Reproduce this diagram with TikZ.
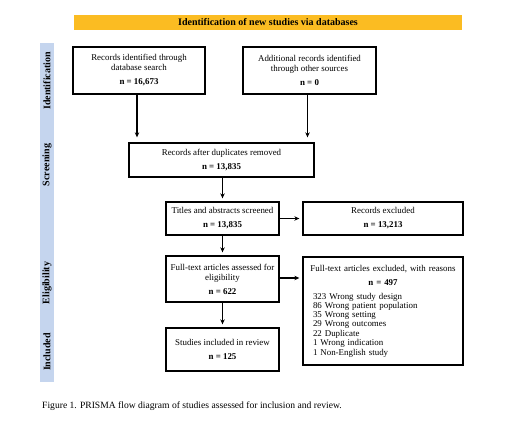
\documentclass[tikz,border=0pt]{standalone}
\usepackage{fontspec}
\setmainfont{Liberation Serif}
\usetikzlibrary{arrows.meta}
\definecolor{banner}{HTML}{FBBC22}
\definecolor{sidebar}{HTML}{C5D5EE}
\begin{document}
\begin{tikzpicture}[x=1pt,y=-1pt,
  box/.style={draw=black,line width=1.3pt,inner sep=0pt,align=center,font=\fontsize{8.9}{10}\selectfont},
  arr/.style={-{Stealth[length=5pt,width=4.5pt]},line width=1.1pt,shorten >=3pt},
  phase/.style={rotate=90,font=\fontsize{10}{12}\selectfont\bfseries,inner sep=0pt}]
\useasboundingbox (0,0) rectangle (520,446);
% banner
\node[fill=banner,minimum width=388pt,minimum height=15pt,inner sep=0pt,font=\fontsize{10}{12}\selectfont\bfseries] (ban) at (268,22.5) {Identification of new studies via databases};
% sidebar
\fill[sidebar] (40,43) rectangle (54,382);
\node[phase] (pid) at (47,81) {Identification};
\node[phase] (psc) at (47,165) {Screening};
\node[phase] (pel) at (47,283) {Eligibility};
\node[phase] (pin) at (47,352) {Included};
% boxes
\node[box,minimum width=132pt,minimum height=47pt] (b1) at (139,70.5) {Records identified through\\database search\\[4pt]\textbf{n = 16,673}};
\node[box,minimum width=133pt,minimum height=47pt] (b2) at (309.5,70.5) {Additional records identified\\through other sources\\[4pt]\textbf{n = 0}};
\node[box,minimum width=185pt,minimum height=34pt] (b3) at (221.5,160) {Records after duplicates removed\\[4pt]\textbf{n = 13,835}};
\node[box,minimum width=113pt,minimum height=33pt] (b4) at (222.5,218.5) {Titles and abstracts screened\\[4pt]\textbf{n = 13,835}};
\node[box,minimum width=160pt,minimum height=33pt] (b5) at (383,218.5) {Records excluded\\[4pt]\textbf{n = 13,213}};
\node[box,minimum width=113pt,minimum height=46pt] (b6) at (222.5,279) {Full-text articles assessed for\\eligibility\\[4pt]\textbf{n = 622}};
\node[box,minimum width=160pt,minimum height=108pt,text width=140pt,align=left,inner xsep=10pt] (b7) at (383,311) {{\centering\makebox[140pt][c]{Full-text articles excluded, with reasons}\\[4pt]\textbf{n = 497}\par}\vspace{5pt}\fontsize{8.9}{9.2}\selectfont\raggedright
  323 Wrong study design\\86 Wrong patient population\\35 Wrong setting\\29 Wrong outcomes\\22 Duplicate\\1 Wrong indication\\1 Non-English study};
\node[box,minimum width=113pt,minimum height=43pt] (b8) at (222.5,349.5) {Studies included in review\\[4pt]\textbf{n = 125}};
% arrows
\draw[arr,shorten >=5pt] ([xshift=-2pt]b1.south) -- ([xshift=-2pt]b1.south |- b3.north);
\draw[arr,shorten >=5pt] ([xshift=-2pt]b2.south) -- ([xshift=-2pt]b2.south |- b3.north);
\draw[arr] (b3.south -| b4) -- (b4.north);
\draw[arr] (b4.east) -- (b5.west);
\draw[arr] (b4.south) -- (b6.north);
\draw[arr] (b6.east |- 0,278) -- (b7.west |- 0,278);
\draw[arr] (b6.south) -- (b8.north);
% caption
\node[anchor=west,inner sep=0pt,font=\fontsize{9.6}{11}\selectfont] (cap) at (42,406) {Figure 1. PRISMA flow diagram of studies assessed for inclusion and review.};
\end{tikzpicture}
\end{document}
